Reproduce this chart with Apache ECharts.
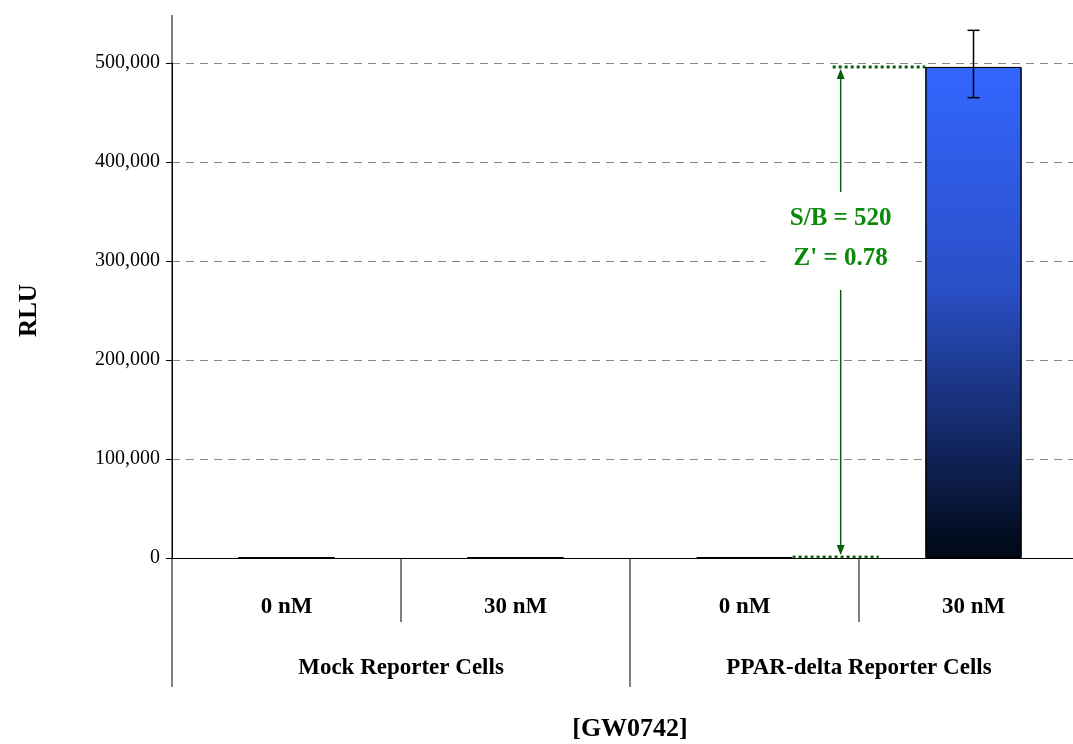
<!DOCTYPE html>
<html>
<head>
<meta charset="utf-8">
<script src="https://cdn.jsdelivr.net/npm/echarts@6/dist/echarts.min.js"></script>
<style>html,body{margin:0;background:#fff}#chart{width:1073px;height:744px}</style>
</head>
<body>
<div id="chart"></div>
<script>
const categories = ['0 nM', '30 nM', '0 nM', '30 nM'];
const groups = ['Mock Reporter Cells', 'PPAR-delta Reporter Cells'];
const rlu = [300, 400, 950, 496000];
const errLow = [300, 400, 950, 465000];
const errHigh = [300, 400, 950, 533000];
const annotation = ['S/B = 520', "Z' = 0.78"];

const font = 'Liberation Serif';
const chart = echarts.init(document.getElementById('chart'));
const green = '#0b5e0b';

chart.setOption({
    animation: false,
    grid: {left: 172, right: -15, top: 63, bottom: 186, outerBoundsMode: 'none', containLabel: false},
    xAxis: {
        type: 'category',
        data: categories,
        axisLine: {lineStyle: {color: '#000'}},
        axisTick: {show: false},
        axisLabel: {margin: 38, color: '#000', fontFamily: font, fontWeight: 'bold', fontSize: 23},
        name: '[GW0742]',
        nameLocation: 'middle',
        nameGap: 158,
        nameTextStyle: {color: '#000', fontFamily: font, fontWeight: 'bold', fontSize: 26}
    },
    yAxis: {
        type: 'value',
        min: 0,
        max: 500000,
        interval: 100000,
        axisLine: {show: true, lineStyle: {color: '#000'}},
        axisTick: {show: true, length: 6, lineStyle: {color: '#000'}},
        axisLabel: {
            color: '#000', fontFamily: font, fontSize: 20, margin: 12,
            formatter: v => v.toLocaleString('en-US')
        },
        splitLine: {lineStyle: {color: '#888', type: [8, 6]}},
        name: 'RLU',
        nameLocation: 'middle',
        nameGap: 130,
        nameTextStyle: {color: '#000', fontFamily: font, fontWeight: 'bold', fontSize: 25}
    },
    series: [
        {
            type: 'bar',
            data: rlu,
            barWidth: '42%',
            itemStyle: {
                borderColor: '#000',
                borderWidth: 1,
                color: new echarts.graphic.LinearGradient(0, 0, 0, 1, [
                    {offset: 0, color: '#3366ff'},
                    {offset: 0.45, color: '#2a4fc6'},
                    {offset: 1, color: '#000814'}
                ])
            }
        },
        {
            type: 'custom',
            clip: false,
            z: 10,
            data: categories.map((c, i) => [i, errLow[i], errHigh[i]]),
            renderItem: (params, api) => {
                const lo = api.coord([api.value(0), api.value(1)]);
                const hi = api.coord([api.value(0), api.value(2)]);
                if (lo[1] - hi[1] < 2) return null;
                const x = lo[0], w = 6;
                const st = {stroke: '#000', lineWidth: 1.5};
                return {type: 'group', children: [
                    {type: 'line', shape: {x1: x, y1: lo[1], x2: x, y2: hi[1]}, style: st},
                    {type: 'line', shape: {x1: x - w, y1: lo[1], x2: x + w, y2: lo[1]}, style: st},
                    {type: 'line', shape: {x1: x - w, y1: hi[1], x2: x + w, y2: hi[1]}, style: st}
                ]};
            }
        }
    ]
});

// extra decorations positioned from the axes
const px = (i, v) => chart.convertToPixel({seriesIndex: 0}, [i, v]);
const p0 = px(0, 0), p3 = px(3, 0);
const band = px(1, 0)[0] - p0[0];
const y0 = p0[1];
const yTop = px(3, rlu[3])[1];
const yBase = px(2, rlu[2])[1];
const xArrow = px(2, 0)[0] + band * 0.42;
const bl = {stroke: '#000', lineWidth: 1};
const dot = {stroke: green, lineWidth: 3, lineDash: [3, 3]};
const gfx = [
    {type: 'line', shape: {x1: p0[0] - band / 2, y1: 15, x2: p0[0] - band / 2, y2: y0}, style: bl},
    {type: 'line', shape: {x1: p0[0] - band / 2, y1: y0, x2: p0[0] - band / 2, y2: 687}, style: bl},
    {type: 'line', shape: {x1: p0[0] + band / 2, y1: y0, x2: p0[0] + band / 2, y2: 622}, style: bl},
    {type: 'line', shape: {x1: p0[0] + band * 1.5, y1: y0, x2: p0[0] + band * 1.5, y2: 687}, style: bl},
    {type: 'line', shape: {x1: p0[0] + band * 2.5, y1: y0, x2: p0[0] + band * 2.5, y2: 622}, style: bl},
    {type: 'line', shape: {x1: xArrow - 8, y1: yTop, x2: p3[0] - band * 0.21, y2: yTop}, style: dot},
    {type: 'line', shape: {x1: px(2, 0)[0] + band * 0.21, y1: yBase, x2: xArrow + 38, y2: yBase}, style: dot},
    {type: 'line', shape: {x1: xArrow, y1: yTop + 4, x2: xArrow, y2: 192}, style: {stroke: green, lineWidth: 1.5}},
    {type: 'line', shape: {x1: xArrow, y1: 290, x2: xArrow, y2: yBase - 4}, style: {stroke: green, lineWidth: 1.5}},
    {type: 'polygon', shape: {points: [[xArrow, yTop + 2], [xArrow - 4, yTop + 12], [xArrow + 4, yTop + 12]]}, style: {fill: green}},
    {type: 'polygon', shape: {points: [[xArrow, yBase - 2], [xArrow - 4, yBase - 12], [xArrow + 4, yBase - 12]]}, style: {fill: green}},
    {type: 'rect', shape: {x: xArrow - 75, y: 200, width: 150, height: 80}, style: {fill: '#fff'}},
    {type: 'text', x: xArrow, y: 219, style: {text: annotation[0], fill: '#0a8a0a', font: 'bold 25px ' + font, align: 'center', verticalAlign: 'middle'}},
    {type: 'text', x: xArrow, y: 259, style: {text: annotation[1], fill: '#0a8a0a', font: 'bold 25px ' + font, align: 'center', verticalAlign: 'middle'}}
];
groups.forEach((g, k) => {
    gfx.push({type: 'text', x: p0[0] + band * (0.5 + 2 * k), y: 668,
        style: {text: g, fill: '#000', font: 'bold 23px ' + font, align: 'center', verticalAlign: 'middle'}});
});
chart.setOption({graphic: gfx});
</script>
</body>
</html>
